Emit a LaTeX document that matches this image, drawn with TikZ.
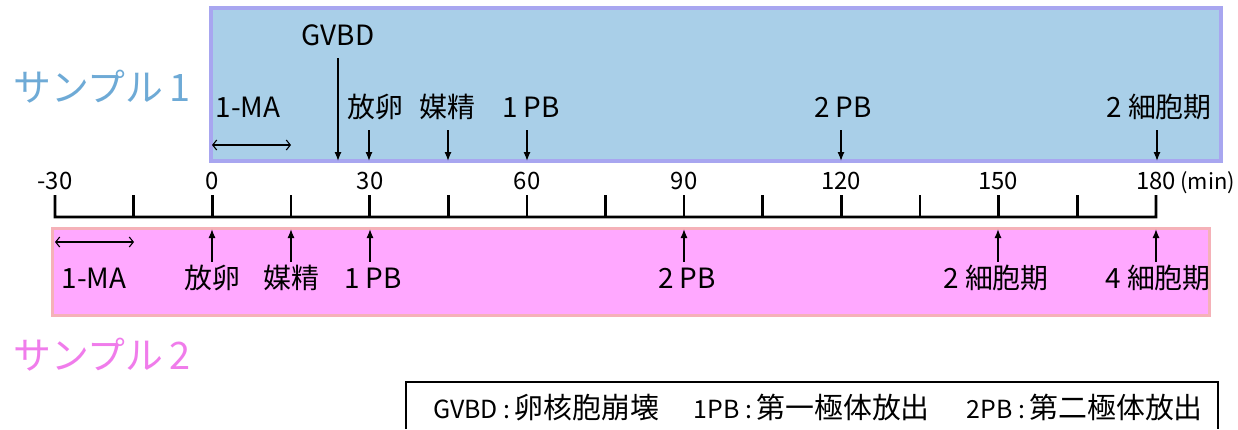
\documentclass[tikz,border=0pt]{standalone}
\usepackage{fontspec}
\setmainfont{Noto Sans CJK JP}
\usetikzlibrary{arrows.meta}
\definecolor{bfill}{HTML}{A9CFE8}
\definecolor{bline}{HTML}{A8A6F0}
\definecolor{pfill}{HTML}{FFA8FF}
\definecolor{pline}{HTML}{F5B1B8}
\definecolor{stxt}{HTML}{6EAAD6}
\definecolor{ptxt}{HTML}{F07CEB}
\newcommand\latpart[1]{{\fontsize{25}{28}\selectfont #1}}
\begin{document}
\begin{tikzpicture}[x=1bp,y=-1bp,
  lbl/.style={font=\fontsize{28}{32}\selectfont, inner sep=0pt, text height=20bp, text depth=4bp},
  num/.style={font=\fontsize{24}{27}\selectfont, inner sep=0pt},
  ttl/.style={font=\fontsize{38}{42}\selectfont, inner sep=0pt, anchor=west},
  evarrow/.style={-{Latex[length=9bp,width=7bp]}, line width=1.3bp},
  spanarrow/.style={{Straight Barb[length=4bp,width=10bp]}-{Straight Barb[length=4bp,width=10bp]}, line width=1.1bp},
  axisline/.style={line width=2.6bp}]
\useasboundingbox (0,0) rectangle (1238,429);
\fill[white] (0,0) rectangle (1238,429);

% sample boxes
\draw[bline, fill=bfill, line width=4bp] (211,8) rectangle (1221,161);
\draw[pline, fill=pfill, line width=3bp] (52,228) rectangle (1209,315);

% sample titles
\node[ttl, text=stxt] (s1) at (13,87) {サンプル\,1};
\node[ttl, text=ptxt] (s2) at (13,355) {サンプル\,2};

% axis
\foreach \i in {0,...,14} \coordinate (t\i) at ({55+\i*78.64},217);
\draw[axisline] (55,195) -- (t0) -- (t14) -- (1156,195);
\foreach \i in {1,...,13} \draw[axisline] (t\i) -- ++(0,-22);

% tick labels
\node[num] (nm30) at (55,181) {-30};
\node[num] (n0) at (212,181) {0};
\node[num] (n30) at (370,181) {30};
\node[num] (n60) at (527,181) {60};
\node[num] (n90) at (684,181) {90};
\node[num] (n120) at (841,181) {120};
\node[num] (n150) at (998,181) {150};
\node[num] (n180) at (1156,181) {180};
\node[num, font=\fontsize{22}{25}\selectfont, anchor=base west] (nmin) at ([xshift=4bp]n180.base east) {(min)};

% upper event targets
\coordinate (Ugvbd) at (338,161);
\coordinate (U30) at (369,161);
\coordinate (U45) at (448,161);
\coordinate (U60) at (527,161);
\coordinate (U120) at (841,161);
\coordinate (U180) at (1157,161);
\coordinate (Uma1) at (212,145);
\coordinate (Uma2) at (291,145);

% upper labels
\node[lbl] (Lgvbd) at (338,37) {GVBD};
\node[lbl] (L30) at (375,109) {放卵};
\node[lbl] (L45) at (447,109) {媒精};
\node[lbl] (L60) at (531,109) {1 PB};
\node[lbl] (L120) at (843,109) {2 PB};
\node[lbl] (L180) at (1159,109) {2 細胞期};
\node[lbl] (Lma1) at (248,109) {1-MA};

\draw[evarrow] (Ugvbd |- Lgvbd.south) ++(0,9) -- (Ugvbd);
\foreach \k in {30,45,60,120,180}
  \draw[evarrow] (U\k |- L\k.south) ++(0,9) -- (U\k);
\draw[spanarrow] (Uma1) -- (Uma2);

% lower event targets
\coordinate (D0) at (212,229);
\coordinate (D15) at (291,229);
\coordinate (D30) at (370,229);
\coordinate (D90) at (684,229);
\coordinate (D150) at (998,229);
\coordinate (D180) at (1156,229);
\coordinate (Dma1) at (55,242);
\coordinate (Dma2) at (134,242);

% lower labels
\node[lbl] (M0) at (212,280) {放卵};
\node[lbl] (M15) at (291,280) {媒精};
\node[lbl] (M30) at (373,280) {1 PB};
\node[lbl] (M90) at (687,280) {2 PB};
\node[lbl] (M150) at (996,280) {2 細胞期};
\node[lbl] (M180) at (1158,280) {4 細胞期};
\node[lbl] (Mma) at (94,280) {1-MA};

\foreach \k in {0,15,30,90,150,180}
  \draw[evarrow] (D\k |- M\k.north) ++(0,-6) -- (D\k);
\draw[spanarrow] (Dma1) -- (Dma2);

% legend
\draw[line width=1.2bp] (406,429) -- (406,382) -- (1218,382) -- (1218,429);
\node[font=\fontsize{29}{32}\selectfont, inner sep=0pt, anchor=west] (leg) at (433,408)
  {\latpart{GVBD :\,}卵核胞崩壊\hspace{35bp}\latpart{1PB :\,}第一極体放出\hspace{37bp}\latpart{2PB :\,}第二極体放出};
\end{tikzpicture}
\end{document}
